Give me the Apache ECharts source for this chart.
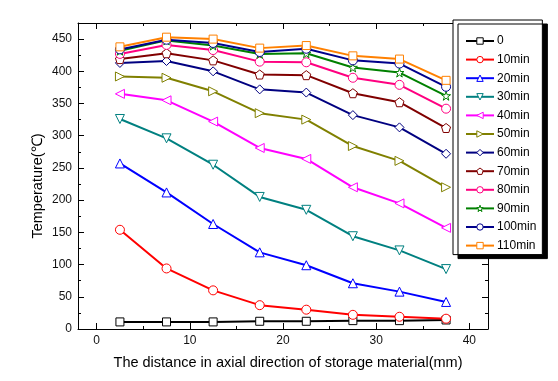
<!DOCTYPE html>
<html><head><meta charset="utf-8">
<script src="https://cdn.jsdelivr.net/npm/echarts@6/dist/echarts.min.js"></script>
<style>html,body{margin:0;padding:0;background:#fff}#c{width:558px;height:381px}</style>
</head><body><div id="c"></div>
<script>
const xs = [2.5, 7.5, 12.5, 17.5, 22.5, 27.5, 32.5, 37.5];
const t0   = [11, 11, 11, 12, 12, 13, 13, 14];
const t10  = [154, 94, 60, 37, 30, 22, 19, 16];
const t20  = [257, 212, 163, 119, 99, 71, 58, 42];
const t30  = [326, 296, 255, 205, 185, 144, 122, 93];
const t40  = [365, 355, 322, 281, 264, 220, 195, 157];
const t50  = [392, 390, 369, 335, 325, 284, 261, 220];
const t60  = [413, 416, 400, 372, 367, 332, 313, 272];
const t70  = [419, 428, 417, 395, 394, 366, 352, 312];
const t80  = [427, 441, 433, 415, 414, 390, 379, 342];
const t90  = [432, 448, 440, 427, 428, 406, 398, 362];
const t100 = [434, 449, 444, 430, 435, 417, 412, 376];
const t110 = [438, 453, 450, 436, 440, 424, 419, 386];
const names = ['0','10min','20min','30min','40min','50min','60min','70min','80min','90min','100min','110min'];
const values = [t0,t10,t20,t30,t40,t50,t60,t70,t80,t90,t100,t110];
const xMajor = [0, 10, 20, 30, 40];
const xMinor = [5, 15, 25, 35];
const yMajor = [0, 50, 100, 150, 200, 250, 300, 350, 400, 450];
const yMinor = [25, 75, 125, 175, 225, 275, 325, 375, 425];
const xTitle = 'The distance in axial direction of storage material(mm)';
const yTitle = 'Temperature(℃)';

const colors = ['#000000','#ff0000','#0000ff','#008080','#ff00ff','#808000','#000080','#800000','#ff0080','#008000','#00008b','#ff8000'];
const pent = 'path://M0,-1 L0.951,-0.309 L0.588,0.809 L-0.588,0.809 L-0.951,-0.309 Z';
const star = 'path://M0,-1 L0.225,-0.309 L0.951,-0.309 L0.363,0.118 L0.588,0.809 L0,0.382 L-0.588,0.809 L-0.363,0.118 L-0.951,-0.309 L-0.225,-0.309 Z';
const symbols = ['rect','circle','triangle','triangle','triangle','triangle','diamond',pent,'circle',star,'circle','rect'];
const rotates = [0,0,0,180,90,-90,0,0,0,0,0,0];
const sizes = [8,9,9,9,9,9,9,9,9,9,9,8];

const FONT = 'Liberation Sans, Arial, sans-serif';
const chart = echarts.init(document.getElementById('c'), null, {renderer:'canvas'});

function xAx(pos, major, showLabel) {
  return {
    type:'value', min:-2, max:42, position:pos, gridIndex:0,
    axisLine:{show:major, onZero:false, lineStyle:{color:'#000', width:1}},
    axisTick:{show:true, inside:true, length: major?6:3, customValues: major?xMajor:xMinor, lineStyle:{color:'#000'}},
    axisLabel:{show:showLabel, customValues:xMajor, color:'#111', fontSize:12, fontFamily:FONT, margin:6},
    splitLine:{show:false}
  };
}
function yAx(pos, major, showLabel) {
  return {
    type:'value', min:0, max:475, position:pos, gridIndex:0,
    axisLine:{show:major, onZero:false, lineStyle:{color:'#000', width:1}},
    axisTick:{show:true, inside:true, length: major?6:3, customValues: major?yMajor:yMinor, lineStyle:{color:'#000'}},
    axisLabel:{show:showLabel, customValues:yMajor, color:'#111', fontSize:12, fontFamily:FONT, margin:6},
    splitLine:{show:false}
  };
}

const series = names.map((n, i) => ({
  name: n, type:'line', xAxisIndex:0, yAxisIndex:0,
  data: xs.map((x, j) => [x, values[i][j]]),
  symbol: symbols[i], symbolSize: sizes[i], symbolRotate: rotates[i],
  showAllSymbol:true,
  lineStyle:{color:colors[i], width:2},
  itemStyle:{color:'#fff', borderColor:colors[i], borderWidth:1},
  emphasis:{disabled:true},
  animation:false, z: 2 + i
}));

chart.setOption({
  animation:false,
  backgroundColor:'#fff',
  grid:{left:78, top:23, right:70, bottom:52},
  xAxis:[xAx('bottom', true, true), xAx('bottom', false, false), xAx('top', true, false), xAx('top', false, false)],
  yAxis:[yAx('left', true, true), yAx('left', false, false), yAx('right', true, false), yAx('right', false, false)],
  legend:{
    orient:'vertical', left:453, top:20,
    padding:[15, 6, 3, 12],
    itemWidth:28, itemHeight:8, itemGap:6.6,
    backgroundColor:'#fff', borderColor:'#000', borderWidth:1,
    shadowColor:'#000', shadowBlur:0, shadowOffsetX:5, shadowOffsetY:4,
    itemStyle:{borderWidth:1},
    textStyle:{fontSize:12, color:'#000', fontFamily:FONT, padding:[0,0,0,-2]},
    data:names
  },
  graphic:[
    {type:'text', x:288, y:363, style:{text:xTitle, fill:'#000', font:'14.5px ' + FONT, textAlign:'center', textVerticalAlign:'middle'}},
    {type:'text', x:38, y:186, rotation:Math.PI/2, style:{text:yTitle, fill:'#000', font:'14.5px ' + FONT, textAlign:'center', textVerticalAlign:'middle'}}
  ],
  series: series
});
</script></body></html>
